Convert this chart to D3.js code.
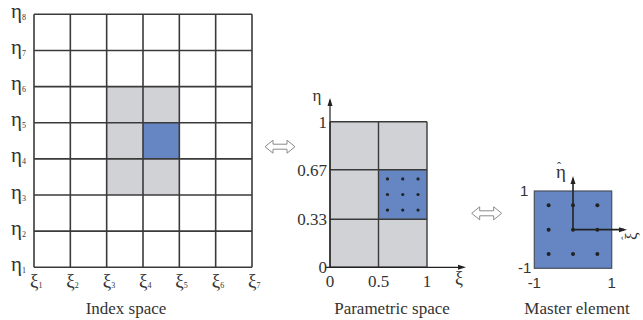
<!DOCTYPE html>
<html><head><meta charset="utf-8"><script src="https://cdn.jsdelivr.net/npm/d3@7"></script></head>
<body style="margin:0">
<svg id="figure" width="643" height="320"></svg>
<script>
// ---- data ----
var xiIdx = [1, 2, 3, 4, 5, 6, 7];
var etaIdx = [1, 2, 3, 4, 5, 6, 7, 8];
// support cells in index space: [xi0, xi1, eta0, eta1]
var greyIdx = [[3, 5, 3, 6]];
var blueIdx = [[4, 5, 4, 5]];

var xiKnots = [0, 0.5, 1];
var etaKnots = [0, 0.33, 0.67, 1];
var xiTickLabels = ["0", "0.5", "1"];
var etaTickLabels = ["0", "0.33", "0.67", "1"];
var blueParam = [0.5, 1, 0.33, 0.67];

var masterTicks = [-1, 1];
var gaussPts = [-0.63, 0, 0.63];

var titles = ["Index space", "Parametric space", "Master element"];

var SERIF = "'Liberation Serif', serif";
var SANS = "'Liberation Sans', sans-serif";

var svg = d3.select("#figure");
var line = "#3a3a3a", grey = "#d1d2d6", blue = "#6586c3";

// font via inline style so nothing else overrides it
function font(sel, fam, size) {
  return sel.attr("style", "font-family:" + fam + " !important;font-size:" + size + "px");
}
function txt(g, fam, size) {
  return font(g.append("text"), fam, size).attr("fill", "#333");
}

// ---- index space ----
var ix = d3.scaleLinear().domain([1, 7]).range([34, 252]);
var iy = d3.scaleLinear().domain([1, 8]).range([267.3, 14.3]);

var g1 = svg.append("g");
function cell(g, sx, sy, c, fill) {
  g.append("rect")
    .attr("x", sx(c[0])).attr("y", sy(c[3]))
    .attr("width", sx(c[1]) - sx(c[0]))
    .attr("height", sy(c[2]) - sy(c[3]))
    .attr("fill", fill);
}
greyIdx.forEach(c => cell(g1, ix, iy, c, grey));
blueIdx.forEach(c => cell(g1, ix, iy, c, blue));

g1.selectAll("line.v").data(xiIdx).enter().append("line")
  .attr("x1", d => ix(d)).attr("x2", d => ix(d))
  .attr("y1", iy(1)).attr("y2", iy(8))
  .attr("stroke", line).attr("stroke-width", 1.6);
g1.selectAll("line.h").data(etaIdx).enter().append("line")
  .attr("y1", d => iy(d)).attr("y2", d => iy(d))
  .attr("x1", ix(1)).attr("x2", ix(7))
  .attr("stroke", line).attr("stroke-width", 1.6);

var et = font(g1.selectAll("text.eta").data(etaIdx).enter().append("text"), SERIF, 21)
  .attr("fill", "#333")
  .attr("x", 11).attr("y", d => iy(d) + 3.5);
et.append("tspan").text("η");
font(et.append("tspan"), SERIF, 8).attr("dy", 2).text(d => d);

var xt = font(g1.selectAll("text.xi").data(xiIdx).enter().append("text"), SERIF, 19)
  .attr("fill", "#333")
  .attr("x", d => ix(d) - 4).attr("y", 287);
xt.append("tspan").text("ξ");
font(xt.append("tspan"), SERIF, 8).attr("dy", 1).text(d => d);

// ---- parametric space ----
var px = d3.scaleLinear().domain([0, 1]).range([330, 427]);
var py = d3.scaleLinear().domain([0, 1]).range([267.3, 121.7]);
var g2 = svg.append("g");
cell(g2, px, py, [0, 1, 0, 1], grey);
cell(g2, px, py, blueParam, blue);

g2.selectAll("line.v").data(xiKnots).enter().append("line")
  .attr("x1", d => px(d)).attr("x2", d => px(d))
  .attr("y1", py(0)).attr("y2", py(1))
  .attr("stroke", line).attr("stroke-width", 1.4);
g2.selectAll("line.h").data(etaKnots).enter().append("line")
  .attr("y1", d => py(d)).attr("y2", d => py(d))
  .attr("x1", px(0)).attr("x2", px(1))
  .attr("stroke", line).attr("stroke-width", 1.4);

// gauss points in blue cell
var bcx = d3.scaleLinear().domain([-1, 1]).range([px(blueParam[0]), px(blueParam[1])]);
var bcy = d3.scaleLinear().domain([-1, 1]).range([py(blueParam[2]), py(blueParam[3])]);
gaussPts.forEach(a => gaussPts.forEach(b => {
  g2.append("circle").attr("cx", bcx(a)).attr("cy", bcy(b)).attr("r", 1.6).attr("fill", "#222");
}));

function arrowHead(g, x, y, dir) {
  var p = dir === "up" ? [[x, y], [x - 2.5, y + 8], [x + 2.5, y + 8]]
                       : [[x, y], [x - 8, y - 2.5], [x - 8, y + 2.5]];
  g.append("path").attr("d", d3.line()(p) + "Z").attr("fill", "#222");
}
// axes
g2.append("line").attr("x1", px(0)).attr("x2", px(0)).attr("y1", py(0)).attr("y2", 100)
  .attr("stroke", "#222").attr("stroke-width", 1.2);
arrowHead(g2, px(0), 98, "up");
g2.append("line").attr("x1", px(0) - 4).attr("x2", 463).attr("y1", py(0)).attr("y2", py(0))
  .attr("stroke", "#222").attr("stroke-width", 1.2);
arrowHead(g2, 466, py(0), "right");

font(g2.selectAll("text.yt").data(etaKnots).enter().append("text"), SERIF, 17)
  .attr("fill", "#333").attr("text-anchor", "end")
  .attr("x", px(0) - 3).attr("y", d => py(d)).attr("dy", "0.35em")
  .text((d, i) => etaTickLabels[i]);
font(g2.selectAll("text.xt").data(xiKnots).enter().append("text"), SERIF, 17)
  .attr("fill", "#333").attr("text-anchor", "middle")
  .attr("x", d => px(d)).attr("y", 287)
  .text((d, i) => xiTickLabels[i]);
txt(g2, SERIF, 17).attr("x", 317).attr("y", 101)
  .attr("text-anchor", "middle").text("η");
txt(g2, SERIF, 18).attr("x", 459).attr("y", 284)
  .attr("text-anchor", "middle").text("ξ");

// ---- master element ----
var mx = d3.scaleLinear().domain([-1, 1]).range([534.3, 611.7]);
var my = d3.scaleLinear().domain([-1, 1]).range([268.3, 191]);
var g3 = svg.append("g");
g3.append("rect").attr("x", mx(-1)).attr("y", my(1))
  .attr("width", mx(1) - mx(-1)).attr("height", my(-1) - my(1))
  .attr("fill", blue).attr("stroke", "#4a4f5c").attr("stroke-width", 1.2);
gaussPts.forEach(a => gaussPts.forEach(b => {
  g3.append("circle").attr("cx", mx(a)).attr("cy", my(b)).attr("r", 2).attr("fill", "#222");
}));
g3.append("line").attr("x1", mx(0)).attr("x2", mx(0)).attr("y1", my(0)).attr("y2", 179)
  .attr("stroke", "#222").attr("stroke-width", 1.6);
arrowHead(g3, mx(0), 176, "up");
g3.append("line").attr("x1", mx(0)).attr("x2", 624).attr("y1", my(0)).attr("y2", my(0))
  .attr("stroke", "#222").attr("stroke-width", 1.6);
arrowHead(g3, 627, my(0), "right");

txt(g3, SANS, 15).attr("x", mx(-1) - 6).attr("y", my(1)).attr("dy", "0.35em")
  .attr("text-anchor", "end").text("1");
txt(g3, SANS, 15).attr("x", mx(-1) - 3).attr("y", my(-1)).attr("dy", "0.3em")
  .attr("text-anchor", "end").text("-1");
font(g3.selectAll("text.mt").data(masterTicks).enter().append("text"), SANS, 15)
  .attr("fill", "#333").attr("text-anchor", "middle")
  .attr("x", d => mx(d)).attr("y", 288)
  .text(d => d);
// hatted labels: glyph + hat as a tspan shifted back over it
var eh = txt(g3, SERIF, 19).attr("x", 556).attr("y", 178);
eh.append("tspan").text("η");
font(eh.append("tspan"), SERIF, 12).attr("dx", -9).attr("dy", -7).text("ˆ");
var xh = txt(g3.append("g").attr("transform", "translate(637,240) rotate(-90)"), SERIF, 17);
xh.append("tspan").text("ξ");
font(xh.append("tspan"), SERIF, 11).attr("dx", -7.5).attr("dy", -8).text("ˆ");

// ---- hollow double arrows ----
function dblArrow(cx, cy) {
  var w = 15, hl = 8, hh = 6.5, sh = 2.5;
  var pts = [[-w, 0], [-w + hl, -hh], [-w + hl, -sh], [w - hl, -sh], [w - hl, -hh], [w, 0],
             [w - hl, hh], [w - hl, sh], [-w + hl, sh], [-w + hl, hh]]
    .map(p => [cx + p[0], cy + p[1]]);
  svg.append("path").attr("d", d3.line()(pts) + "Z")
    .attr("fill", "#fff").attr("stroke", "#8a8a8a").attr("stroke-width", 1);
}
dblArrow(280, 146.7);
dblArrow(486.7, 213.3);

// ---- titles ----
var titleX = [126, 392, 577];
font(svg.selectAll("text.title").data(titles).enter().append("text"), SERIF, 17)
  .attr("fill", "#333").attr("text-anchor", "middle")
  .attr("x", (d, i) => titleX[i]).attr("y", 314)
  .text(d => d);
</script>
</body>
</html>
